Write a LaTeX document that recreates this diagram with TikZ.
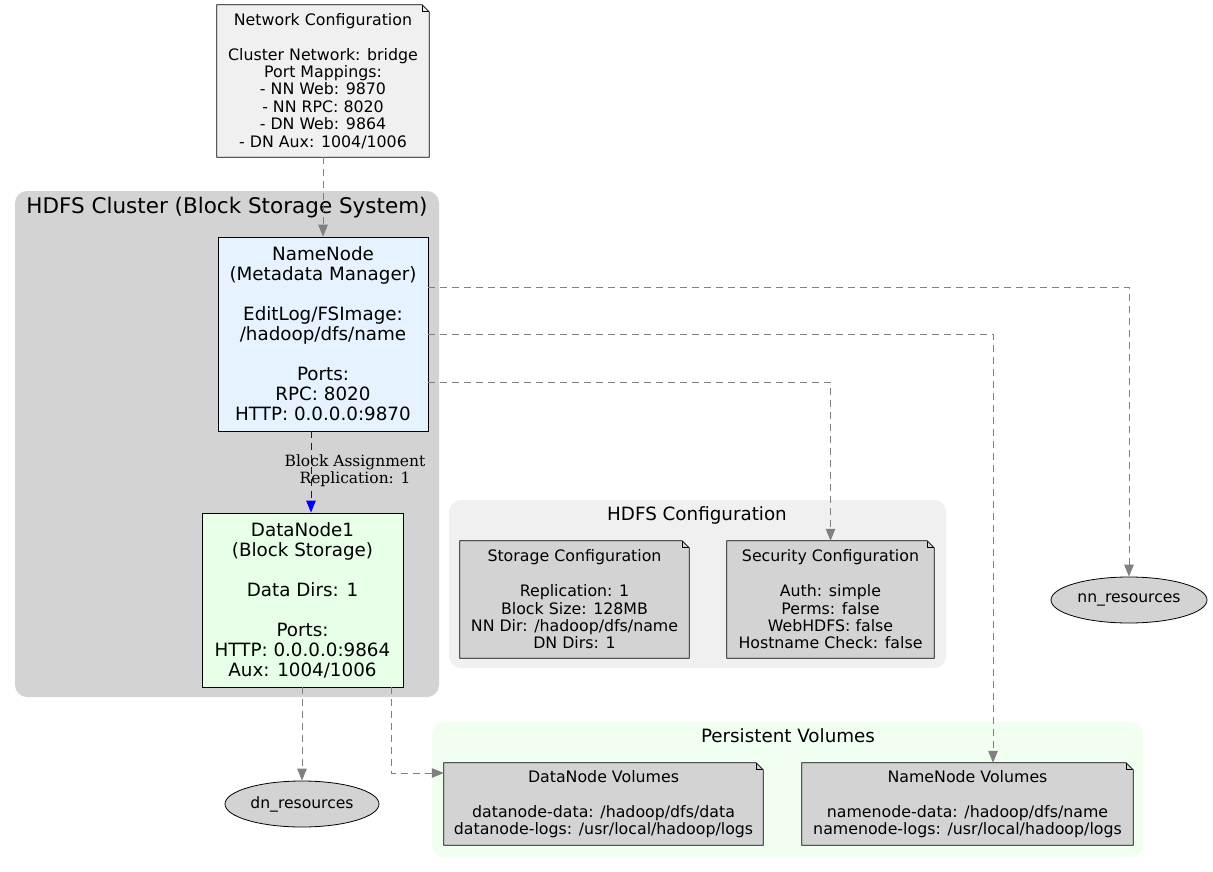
\documentclass[tikz,border=0pt]{standalone}
\usepackage{fontspec}
\setmainfont{DejaVu Sans}
\newfontfamily\edgefont{DejaVu Serif}
\usetikzlibrary{arrows.meta,shapes.geometric,calc}
\pgfdeclarelayer{clusters}
\pgfdeclarelayer{shapes}
\pgfsetlayers{clusters,shapes,main}
\definecolor{clgray}{HTML}{D3D3D3}
\definecolor{clcfg}{HTML}{F0F0F0}
\definecolor{clvol}{HTML}{F0FFF0}
\definecolor{nnfill}{HTML}{E6F2FF}
\definecolor{dnfill}{HTML}{E6FFE6}
\definecolor{edgegray}{HTML}{808080}
\newcommand\notefold[2]{%
  \begin{pgfonlayer}{shapes}
    \draw[fill=#2, line width=0.8pt] (#1.north west) -- ([xshift=-7pt]#1.north east) -- ([yshift=-7pt]#1.north east) -- (#1.south east) -- (#1.south west) -- cycle;
    \draw[line width=0.8pt] ([xshift=-7pt]#1.north east) |- ([yshift=-7pt]#1.north east);
  \end{pgfonlayer}}
\begin{document}
\begin{tikzpicture}[x=1pt,y=-1pt,
  mainbox/.style={draw, line width=0.8pt, align=center, inner sep=0pt, font=\fontsize{18.3}{20}\selectfont},
  notetext/.style={inner sep=0pt, align=center, font=\fontsize{15.8}{17.4}\selectfont},
  resell/.style={ellipse, draw, line width=0.8pt, fill=clgray, inner sep=0pt, font=\fontsize{15.6}{17}\selectfont},
  cltitle/.style={inner sep=0pt, font=\fontsize{21.5}{24}\selectfont},
  subtitle/.style={inner sep=0pt, font=\fontsize{18.3}{20}\selectfont},
  grayedge/.style={draw=edgegray, line width=1pt, dash pattern=on 7pt off 5pt, -{Triangle[length=12pt,width=9.5pt]}, color=edgegray},
  blueedge/.style={draw=blue, line width=1pt, dash pattern=on 7pt off 5pt, -{Triangle[length=12pt,width=9.5pt]}, color=blue},
  elabel/.style={inner sep=0pt, align=center, font=\edgefont\fontsize{15.5}{17}\selectfont}
]
\useasboundingbox (0,0) rectangle (1213,872);

% clusters
\begin{pgfonlayer}{clusters}
\fill[white] (0,0) rectangle (1213,872);
\fill[clgray, rounded corners=12pt] (15,191) rectangle (439,697);
\fill[clcfg, rounded corners=12pt] (449,500) rectangle (946,668);
\fill[clvol, rounded corners=12pt] (432,722) rectangle (1143,857);
\end{pgfonlayer}
\node[cltitle] (t1) at (227,208) {HDFS Cluster (Block Storage System)};
\node[subtitle] (t2) at (697,515) {HDFS Configuration};
\node[subtitle] (t3) at (788,736) {Persistent Volumes};

% network note
\node[notetext, minimum width=212pt, minimum height=152pt] (net) at (323,81)
  {Network Configuration\\[17.4pt]Cluster Network: bridge\\Port Mappings:\\- NN Web: 9870\\- NN RPC: 8020\\- DN Web: 9864\\- DN Aux: 1004/1006};
\notefold{net}{clcfg}

% main nodes
\node[mainbox, fill=nnfill, minimum width=210pt, minimum height=194pt] (nn) at (323,334)
  {NameNode\\(Metadata Manager)\\[20pt]EditLog/FSImage:\\/hadoop/dfs/name\\[20pt]Ports:\\RPC: 8020\\HTTP: 0.0.0.0:9870};
\node[mainbox, fill=dnfill, minimum width=201pt, minimum height=174pt] (dn) at (302.5,600)
  {DataNode1\\(Block Storage)\\[20pt]Data Dirs: 1\\[20pt]Ports:\\HTTP: 0.0.0.0:9864\\Aux: 1004/1006};

% config notes
\node[notetext, minimum width=229pt, minimum height=117pt] (stor) at (574.5,599.5)
  {Storage Configuration\\[17.4pt]Replication: 1\\Block Size: 128MB\\NN Dir: /hadoop/dfs/name\\DN Dirs: 1};
\notefold{stor}{clgray}
\node[notetext, minimum width=207pt, minimum height=117pt] (sec) at (830.5,599.5)
  {Security Configuration\\[17.4pt]Auth: simple\\Perms: false\\WebHDFS: false\\Hostname Check: false};
\notefold{sec}{clgray}

% volume notes
\node[notetext, minimum width=319pt, minimum height=82pt] (dnvol) at (603.5,804)
  {DataNode Volumes\\[17.4pt]datanode-data: /hadoop/dfs/data\\datanode-logs: /usr/local/hadoop/logs};
\notefold{dnvol}{clgray}
\node[notetext, minimum width=331pt, minimum height=82pt] (nnvol) at (967.5,804)
  {NameNode Volumes\\[17.4pt]namenode-data: /hadoop/dfs/name\\namenode-logs: /usr/local/hadoop/logs};
\notefold{nnvol}{clgray}

% resources
\node[resell, minimum width=156pt, minimum height=46pt] (nnres) at (1129,600) {nn\_resources};
\node[resell, minimum width=154pt, minimum height=46pt] (dnres) at (302,804) {dn\_resources};

% edges
\draw[grayedge] (net.south -| nn.north) -- (nn.north);
\draw[blueedge] ([xshift=-12pt]nn.south) -- ([xshift=-12pt]nn.south |- dn.north);
\node[elabel] (lbl) at (355,470.5) {Block Assignment\\Replication: 1};
\draw[grayedge] ([yshift=47pt]nn.east) -| (nnres.north);
\draw[grayedge] (nn.east) -| ([xshift=25.5pt]nnvol.north);
\draw[grayedge] ([yshift=-48pt]nn.east) -| (sec.north);
\draw[grayedge] (dn.south -| dnres.north) -- (dnres.north);
\draw[grayedge] ([xshift=88.5pt]dn.south) |- ([yshift=31pt]dnvol.west);
\end{tikzpicture}
\end{document}
